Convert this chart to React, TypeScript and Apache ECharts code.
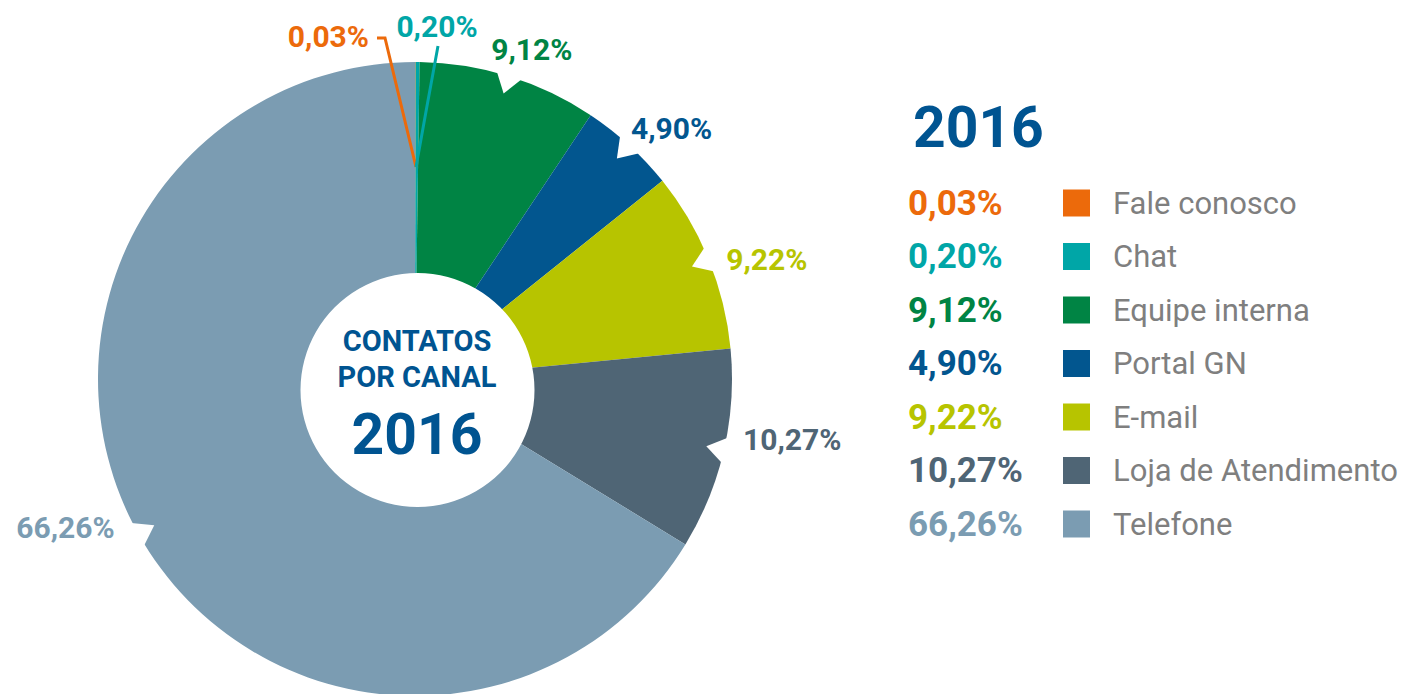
import React, { useEffect, useRef } from "react";
import * as echarts from "echarts";

// ---- data ----
const categories = ["Fale conosco", "Chat", "Equipe interna", "Portal GN", "E-mail", "Loja de Atendimento", "Telefone"];
const shares = [0.03, 0.2, 9.12, 4.9, 9.22, 10.27, 66.26];
const colors = ["#ec6a0b", "#00a6a7", "#008444", "#02568f", "#b7c400", "#4f6575", "#7b9cb2"];
const centerTitle = ["CONTATOS", "POR CANAL"];
const yearLabel = "2016";

// ---- style / layout constants ----
const FONT = "Roboto";
const BLUE = "#005491";
const GREY = "#7f7f7f";
const CX = 415;
const CY = 379;
const R = 317;
// radial extension of each outside label and a small nudge [dx, dy]
const LABEL_EXT = [20, 20, 30, 23, 53, 66, 63];
const LABEL_NUDGE: number[][] = [[0, 0], [0, 0], [14, 2], [27, 0], [9, 20], [4, -26], [-18, -37]];
const POINTER_FROM = 2; // pointers drawn for slices from this index on

const fmt = (v: number) => v.toFixed(2).replace(".", ",") + "%";

function buildOption() {
  const total = shares.reduce((a, b) => a + b, 0);
  let acc = 0;
  const mids = shares.map((v) => {
    const m = ((acc + v / 2) / total) * 100;
    acc += v;
    return m;
  });

  const rich: Record<string, any> = {
    g: { width: 23, lineHeight: 40, verticalAlign: "middle" },
    n: { fontFamily: FONT, fontSize: 31, color: GREY, lineHeight: 40, verticalAlign: "middle" },
  };
  categories.forEach((_, i) => {
    rich["p" + i] = {
      fontFamily: FONT,
      fontSize: 35,
      fontWeight: "bold",
      color: colors[i],
      width: 155,
      lineHeight: 40,
      verticalAlign: "middle",
    };
    rich["s" + i] = {
      width: 27,
      height: 27,
      backgroundColor: colors[i],
      lineHeight: 40,
      verticalAlign: "middle",
    };
  });

  const top = [CX, CY - R];

  const pieData = categories.map((name, i) => ({
    name,
    value: shares[i],
    itemStyle: { color: colors[i] },
  }));

  return {
    animation: false,
    backgroundColor: "#ffffff",
    legend: {
      orient: "vertical",
      left: 903,
      top: 183,
      padding: 0,
      itemGap: 16,
      icon: "none",
      itemWidth: 0,
      itemHeight: 40,
      selectedMode: false,
      data: categories,
      formatter: (name: string) => {
        const i = categories.indexOf(name);
        return `{p${i}|${fmt(shares[i])}}{s${i}|}{g|}{n|${name}}`;
      },
      textStyle: { rich },
    },
    polar: { center: [CX, CY], radius: R },
    angleAxis: { type: "value", min: 0, max: 100, startAngle: 90, clockwise: true, show: false },
    radiusAxis: { type: "value", min: 0, max: 1, show: false },
    graphic: [
      {
        type: "text",
        x: 913,
        y: 127,
        z: 100,
        style: { text: yearLabel, fontFamily: FONT, fontSize: 57, fontWeight: "bold", fill: BLUE, align: "left", verticalAlign: "middle" },
      },
      {
        type: "text",
        x: 417,
        y: 341,
        z: 100,
        style: { text: centerTitle[0], fontFamily: FONT, fontSize: 29, fontWeight: "bold", fill: BLUE, align: "center", verticalAlign: "middle" },
      },
      {
        type: "text",
        x: 417,
        y: 377,
        z: 100,
        style: { text: centerTitle[1], fontFamily: FONT, fontSize: 29, fontWeight: "bold", fill: BLUE, align: "center", verticalAlign: "middle" },
      },
      {
        type: "text",
        x: 417,
        y: 434,
        z: 100,
        style: { text: yearLabel, fontFamily: FONT, fontSize: 57, fontWeight: "bold", fill: BLUE, align: "center", verticalAlign: "middle" },
      },
    ],
    series: [
      // slices
      {
        type: "pie",
        center: [CX, CY],
        radius: [0, R],
        startAngle: 90,
        clockwise: true,
        silent: true,
        z: 2,
        itemStyle: { borderWidth: 0 },
        label: { show: false },
        labelLine: { show: false },
        data: pieData,
      },
      // labels and leader lines, drawn above the slices
      {
        type: "pie",
        center: [CX, CY],
        radius: [0, R],
        startAngle: 90,
        clockwise: true,
        avoidLabelOverlap: false,
        silent: true,
        z: 3,
        itemStyle: { color: "rgba(0,0,0,0)", borderWidth: 0 },
        label: {
          show: true,
          position: "outside",
          alignTo: "none",
          distanceToLabelLine: 0,
          width: 120,
          fontFamily: FONT,
          fontSize: 30,
          fontWeight: "bold",
          formatter: (p: any) => fmt(p.value),
        },
        labelLine: { show: false, length: 20, length2: 0, smooth: false, lineStyle: { width: 3 } },
        labelLayout: (params: any) => {
          const i = params.dataIndex;
          if (i === 0) {
            return {
              x: top[0] - 46,
              y: top[1] - 26,
              align: "right",
              verticalAlign: "middle",
              labelLinePoints: [
                [top[0] + 1, top[1] + 105],
                [top[0] - 30, top[1] - 24],
                [top[0] - 38, top[1] - 24],
              ],
            };
          }
          if (i === 1) {
            return {
              x: top[0] + 22,
              y: top[1] - 36,
              align: "center",
              verticalAlign: "middle",
              labelLinePoints: [
                [top[0] + 1, top[1] + 105],
                [top[0] + 12, top[1] + 44],
                [top[0] + 23, top[1] - 16],
              ],
            };
          }
          return { dx: LABEL_NUDGE[i][0], dy: LABEL_NUDGE[i][1], align: "center", verticalAlign: "middle" };
        },
        data: categories.map((name, i) => ({
          name,
          value: shares[i],
          label: { color: colors[i] },
          labelLine: { show: i < POINTER_FROM, length: LABEL_EXT[i], lineStyle: { color: colors[i] } },
        })),
      },
      // white pointer notches at each large slice
      {
        type: "scatter",
        coordinateSystem: "polar",
        silent: true,
        z: 4,
        symbol: "triangle",
        symbolSize: [26, 19],
        itemStyle: { color: "#ffffff", opacity: 1 },
        data: mids
          .map((m, i) => ({ value: [0.973, m], symbolRotate: 180 - m * 3.6, idx: i }))
          .filter((d) => d.idx >= POINTER_FROM)
          .map((d) => ({ value: d.value, symbolRotate: d.symbolRotate })),
      },
      // white centre disc
      {
        type: "pie",
        center: [417.5, 390],
        radius: [0, 117],
        silent: true,
        z: 5,
        label: { show: false },
        labelLine: { show: false },
        itemStyle: { color: "#ffffff", borderWidth: 0 },
        data: [{ value: 1, name: "" }],
      },
    ],
  };
}

export default function App() {
  const ref = useRef<HTMLDivElement>(null);
  useEffect(() => {
    if (!ref.current) return;
    const chart = echarts.init(ref.current, null, { renderer: "svg" });
    chart.setOption(buildOption() as any);
    return () => chart.dispose();
  }, []);
  return <div ref={ref} style={{ position: "fixed", left: 0, top: 0, width: 1417, height: 694 }} />;
}
